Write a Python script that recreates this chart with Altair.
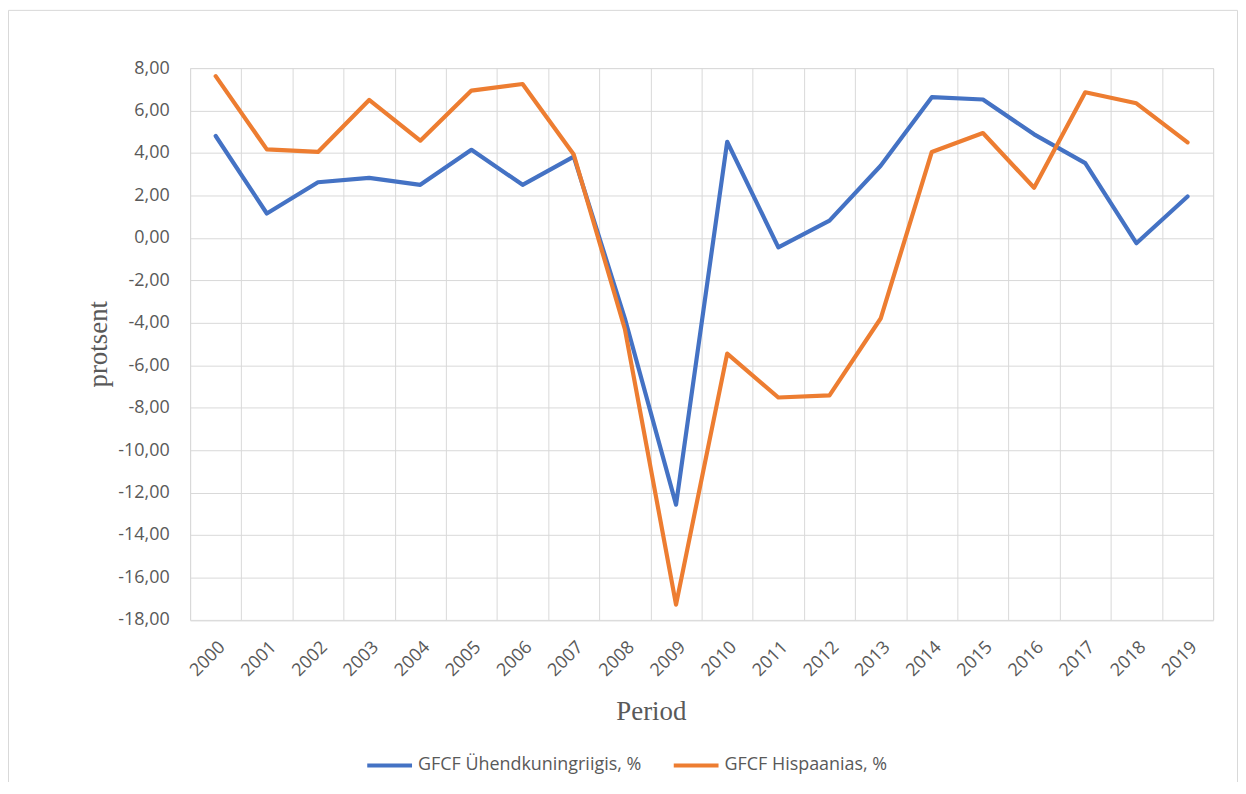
import altair as alt
import pandas as pd

years = [str(y) for y in range(2000, 2020)]
uk = [4.8, 1.15, 2.62, 2.83, 2.5, 4.15, 2.5, 3.83, -3.8, -12.57,
      4.53, -0.45, 0.81, 3.4, 6.63, 6.52, 4.88, 3.52, -0.25, 1.95]
es = [7.62, 4.17, 4.05, 6.5, 4.58, 6.94, 7.25, 3.93, -4.3, -17.28,
      -5.45, -7.52, -7.42, -3.8, 4.05, 4.94, 2.36, 6.86, 6.34, 4.5]
series_names = ["GFCF Ühendkuningriigis, %", "GFCF Hispaanias, %"]
series_colors = ["#4472C4", "#ED7D31"]
y_ticks = list(range(-18, 9, 2))

rows = []
for name, vals in zip(series_names, [uk, es]):
    for yr, v in zip(years, vals):
        rows.append({"Periood": yr, "value": v, "series": name})
df = pd.DataFrame(rows)

label_font = "Open Sans"
grey = "#595959"
grid = "#d9d9d9"

lines = alt.Chart(df).mark_line(strokeWidth=4.2, strokeCap="round", strokeJoin="round").encode(
    x=alt.X("Periood:O", sort=years,
            scale=alt.Scale(type="band", paddingInner=0, paddingOuter=0),
            axis=alt.Axis(title="Period", tickBand="extent", grid=True, gridColor=grid,
                          ticks=False, domain=False, labelAngle=-45, labelPadding=18,
                          labelFont=label_font, labelFontSize=18, labelColor=grey,
                          titleFont="Liberation Serif", titleFontSize=27, titleFontWeight="normal",
                          titleColor=grey, titleX=463, titleY=100, titleBaseline="alphabetic",
                          titleAlign="center")),
    y=alt.Y("value:Q", scale=alt.Scale(domain=[-18, 8], nice=False, zero=False),
            axis=alt.Axis(title="protsent", values=y_ticks, grid=True, gridColor=grid,
                          ticks=False, domain=False, labelPadding=21,
                          labelExpr="replace(replace(format(datum.value, '.2f'), '.', ','), '\u2212', '-')",
                          labelFont=label_font, labelFontSize=18, labelColor=grey,
                          titleFont="Liberation Serif", titleFontSize=27, titleFontWeight="normal",
                          titleColor=grey, titleX=-84, titleY=277, titleBaseline="alphabetic",
                          titleAlign="center", titleAngle=270)),
    color=alt.Color("series:N", sort=series_names,
                    scale=alt.Scale(domain=series_names, range=series_colors),
                    legend=alt.Legend(title=None, orient="none", legendX=176, legendY=676,
                                      direction="horizontal", symbolType="stroke",
                                      symbolSize=2025, symbolStrokeWidth=4,
                                      labelFont=label_font, labelFontSize=18, labelColor=grey,
                                      labelOffset=4, columnPadding=24, labelLimit=500)),
)

frame = alt.Chart(pd.DataFrame({"f": [0]})).mark_rect(
    fill=None, stroke="#d9d9d9", strokeWidth=1
).encode(
    x=alt.value(-182.5), x2=alt.value(1052.5), y=alt.value(-58), y2=alt.value(760)
)

chart = alt.layer(frame, lines).properties(
    width=1028, height=554.5,
    padding={"left": 183, "top": 58.5, "right": 25, "bottom": 161},
    autosize=alt.AutoSizeParams(type="none"),
).configure_view(stroke=grid, strokeWidth=1).configure(background="white")

chart.save("out.html", embed_options={"renderer": "svg", "actions": False})
